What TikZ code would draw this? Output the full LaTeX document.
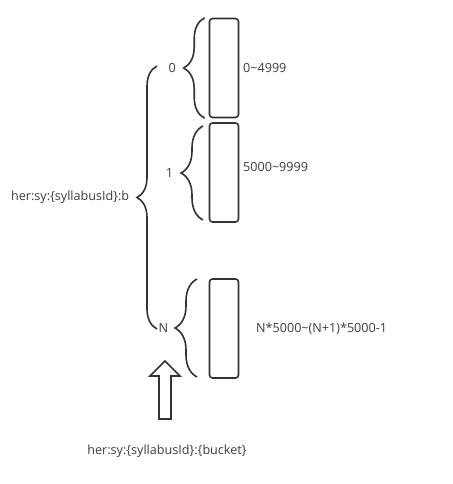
\documentclass[tikz,border=0pt]{standalone}
\usepackage{fontspec}
\setmainfont{Open Sans}
\usetikzlibrary{decorations.pathreplacing,positioning}
\definecolor{inkgray}{HTML}{333333}
\definecolor{labelgray}{HTML}{3C3C3C}

\begin{document}
\begin{tikzpicture}[x=1pt,y=-1pt,every node/.style={font=\fontsize{12.6}{15}\selectfont,text=labelgray,inner sep=1pt},
  slot/.style={draw=inkgray,line width=1.6pt,rounded corners=3pt,minimum width=29pt,minimum height=99pt},
  curly/.style={draw=inkgray,line width=1.6pt,decorate,decoration={brace,amplitude=#1}}]
\useasboundingbox (0,0) rectangle (452,484);
% buckets
\node[slot] (b0) at (224,68) {};
\node[slot] (b1) at (224,172.5) {};
\node[slot] (bN) at (224,328.5) {};
\node[anchor=west] (r0) at (242,68) {0\textasciitilde4999};
\node[anchor=west] (r1) at (242,167) {5000\textasciitilde9999};
\node[anchor=west] (rN) at (255,329) {N*5000\textasciitilde(N+1)*5000-1};
% braces in front of each bucket
\draw[curly=21] ([xshift=-4pt]b0.south west) -- node[left=27pt] (k0) {0} ([xshift=-4pt]b0.north west);
\draw[curly=22] (203,220) -- node[left=28pt] (k1) {1} (203,126);
\draw[curly=22] (197,377) -- node[left=27pt] (kN) {N} (197,279);
% whole key
\coordinate (top) at (157,66);
\coordinate (bot) at (157,329);
\draw[curly=20] (bot) -- node[left=26pt] (key) {her:sy:\{syllabusId\}:b} (top);
% bucket key
\coordinate (tip) at (165,361);
\draw[draw=inkgray,line width=1.6pt] (tip) -- ++(15,15) -- ++(-9,0) -- ++(0,43) -- ++(-12,0) -- ++(0,-43) -- ++(-9,0) -- cycle;
\node (bucket) at (167,451) {her:sy:\{syllabusId\}:\{bucket\}};
\end{tikzpicture}
\end{document}
